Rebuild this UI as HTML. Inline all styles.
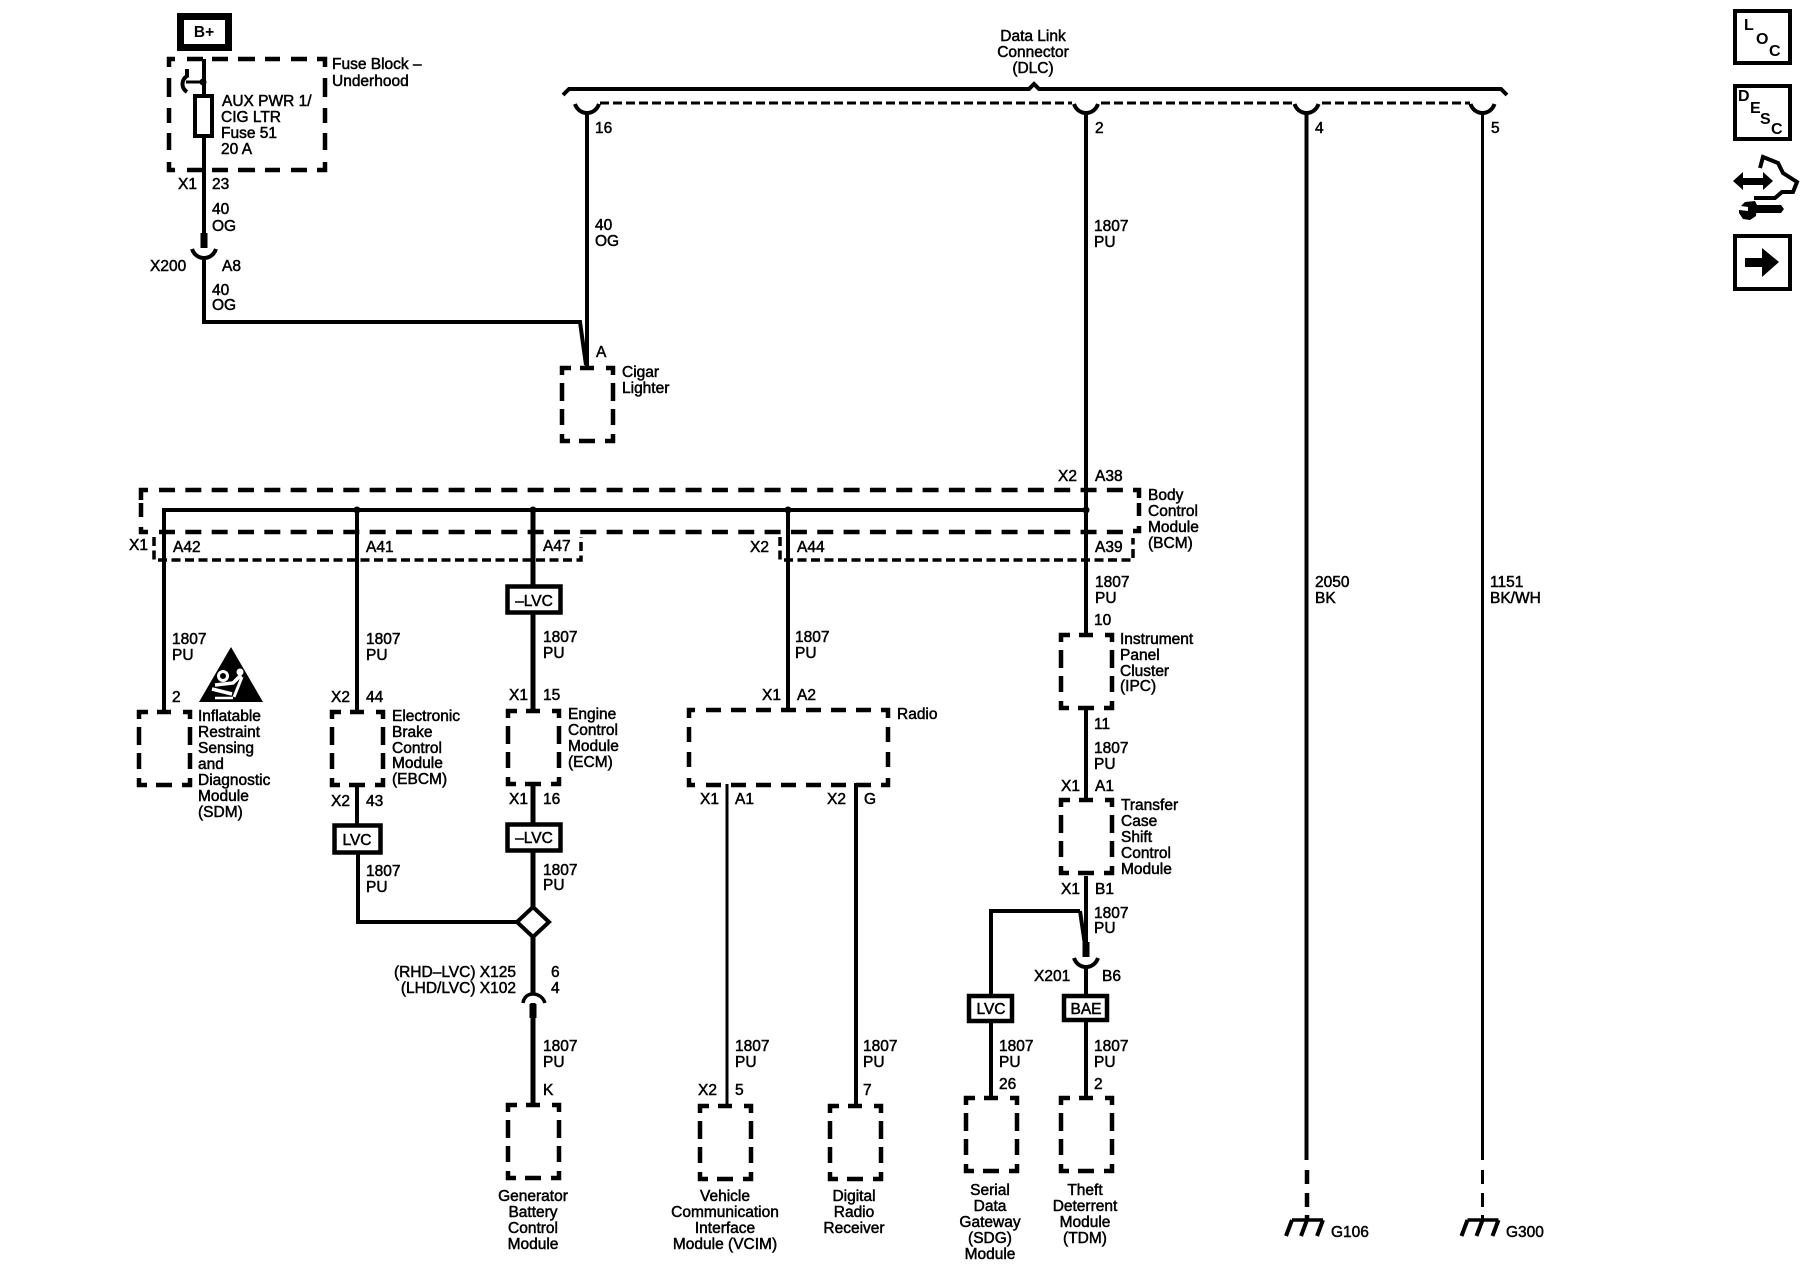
<!DOCTYPE html>
<html><head><meta charset="utf-8"><title>Wiring Diagram</title>
<style>
html,body{margin:0;padding:0;background:#fff}
svg{display:block}
text{font-family:"Liberation Sans",sans-serif;font-size:15.5px;fill:#000;stroke:#000;stroke-width:.5px}
.m{text-anchor:middle}.e{text-anchor:end}
.b{font-weight:bold;font-size:16px;stroke-width:0}
.w{fill:none;stroke:#000;stroke-width:4}
.t{fill:none;stroke:#000;stroke-width:5}
.h{fill:none;stroke:#000;stroke-width:3}
.x{fill:none;stroke:#000;stroke-width:7}
.d{fill:none;stroke:#000;stroke-width:4.500}
.f{fill:none;stroke:#000;stroke-width:3.500;stroke-dasharray:9 4.500}
.bx{fill:#fff;stroke:#000;stroke-width:4.500}
</style></head><body>
<svg width="1800" height="1280" viewBox="0 0 1800 1280" xmlns="http://www.w3.org/2000/svg">
<defs>
<path id="m" class="d" d="M2 9V2H11M20 2H34M46 2H53V9M2 17V35M2 43V59M2 68V75H10M19 75H35M45 75H53V68M53 17V35M53 43V59"/>
<path id="cup" fill="none" stroke="#000" stroke-width="4" d="M-12 0C-10 6-5 9 0 9C5 9 10 6 12 0"/>
<g id="gnd" fill="none" stroke="#000"><path stroke-width="3.500" d="M-15 0H16"/><path stroke-width="4" d="M-15 0L-21 16M0 0L-6 16M16 0L10 16"/></g>
</defs>

<!-- B+ and fuse block -->
<rect x="180.500" y="16.500" width="48" height="31" fill="#fff" stroke="#000" stroke-width="7"/>
<text class="m" x="204" y="37" style="font-weight:bold;stroke-width:0">B+</text>
<path class="d" d="M169 67V59H175M187 59H203M212 59H228M238 59H255M265 59H280M291 59H307M317 59H325V67M169 78V97M169 108V123M169 133V150M169 162V170H175M187 170H203M212 170H228M238 170H255M265 170H280M291 170H307M317 170H325V162M325 78V97M325 108V123M325 133V150"/>
<path class="w" d="M204 59V94M204 138V233"/>
<circle cx="203" cy="82" r="3.500"/>
<path class="h" d="M204 82H186"/>
<path fill="none" stroke="#000" stroke-width="4" d="M187 69V76C181 80 181 88 187 92"/>
<rect x="195" y="96" width="17" height="40" fill="#fff" stroke="#000" stroke-width="4"/>
<path class="x" d="M204 233V248"/>
<use href="#cup" x="204" y="249"/>
<path class="w" d="M204 258V322H580L586 365"/>
<text x="332" y="69">Fuse Block –</text><text x="332" y="86">Underhood</text>
<text x="222" y="106">AUX PWR 1/</text><text x="221" y="122">CIG LTR</text><text x="221" y="138">Fuse 51</text><text x="221" y="154">20 A</text>
<text x="178" y="189">X1</text><text x="212" y="189">23</text>
<text x="212" y="214">40</text><text x="212" y="231">OG</text>
<text x="150" y="271">X200</text><text x="222" y="271">A8</text>
<text x="212" y="295">40</text><text x="212" y="310">OG</text>

<!-- DLC -->
<text class="m" x="1033" y="41">Data Link</text><text class="m" x="1033" y="57">Connector</text><text class="m" x="1033" y="73">(DLC)</text>
<path class="w" d="M563 95L569 89H1029L1034 84L1039 89H1501L1507 95"/>
<path fill="none" stroke="#000" stroke-width="3" stroke-dasharray="9 4" d="M600 103H1072M1101 103H1294M1322 103H1470"/>
<use href="#cup" x="587" y="104"/><use href="#cup" x="1086" y="104"/><use href="#cup" x="1306.500" y="104"/><use href="#cup" x="1482.500" y="104"/>
<path class="w" d="M587 113V366M1086 113V633M1086 710V798M1086 876V942M1306.500 113V1160"/>
<path class="h" d="M1482.500 113V1160"/>
<path class="d" d="M1307 1170V1184M1307 1193V1207M1307 1215V1221"/>
<path class="d" d="M1482.500 1170V1184M1482.500 1193V1207M1482.500 1215V1221" style="stroke-width:3"/>
<use href="#gnd" x="1307" y="1220"/><use href="#gnd" x="1482.500" y="1220"/>
<text x="1331" y="1237">G106</text><text x="1506" y="1237">G300</text>
<text x="595" y="133">16</text><text x="1095" y="133">2</text><text x="1315" y="133">4</text><text x="1491" y="133">5</text>
<text x="595" y="230">40</text><text x="595" y="246">OG</text>
<text x="1094" y="231">1807</text><text x="1094" y="247">PU</text>
<text x="1315" y="587">2050</text><text x="1315" y="603">BK</text>
<text x="1490" y="587">1151</text><text x="1490" y="603">BK/WH</text>

<!-- Cigar lighter -->
<use href="#m" x="560" y="366"/>
<text x="596" y="357">A</text>
<text x="622" y="377">Cigar</text><text x="622" y="393">Lighter</text>

<!-- BCM -->
<path class="d" d="M149 490H1133" style="stroke-dasharray:16 10.330;stroke-dashoffset:-10"/>
<path class="d" d="M149 532H1133" style="stroke-dasharray:16 10.330;stroke-dashoffset:-10"/>
<path class="d" d="M148 490H141V500M141 503V517M141 527V532H148M1133 490H1139V498M1139 503V516M1139 526V531H1133"/>
<path class="f" d="M154 537V560H581V537"/>
<path class="f" d="M780 537V560H1133V538"/>
<path class="w" d="M164 510H1086"/>
<circle cx="357" cy="510" r="3.500"/><circle cx="533" cy="510" r="3.500"/><circle cx="788" cy="510" r="3.500"/><circle cx="1086" cy="510" r="3.500"/>
<path class="w" d="M164 508V710M357 510V710M788 510V710"/>
<path class="t" d="M533 510V709M533 785V823M533 852V1103"/>
<text x="1058" y="481">X2</text><text x="1095" y="481">A38</text>
<text x="1148" y="500">Body</text><text x="1148" y="516">Control</text><text x="1148" y="532">Module</text><text x="1148" y="548">(BCM)</text>
<text x="129" y="550">X1</text><text x="173" y="552">A42</text><text x="366" y="552">A41</text><text x="543" y="551">A47</text>
<text x="750" y="552">X2</text><text x="797" y="552">A44</text><text x="1095" y="552">A39</text>

<!-- Lower modules row -->
<use href="#m" x="137" y="710"/><use href="#m" x="330" y="710"/><use href="#m" x="506" y="709"/><use href="#m" x="1059" y="633"/><use href="#m" x="1059" y="798"/>
<rect x="507.500" y="586.500" width="53" height="26" class="bx"/><text class="m" x="534" y="606">–LVC</text>
<text x="172" y="644">1807</text><text x="172" y="660">PU</text><text x="172" y="702">2</text>
<text x="366" y="644">1807</text><text x="366" y="660">PU</text><text x="331" y="702">X2</text><text x="366" y="702">44</text>
<text x="543" y="642">1807</text><text x="543" y="658">PU</text><text x="509" y="700">X1</text><text x="543" y="700">15</text>
<text x="795" y="642">1807</text><text x="795" y="658">PU</text><text x="762" y="700">X1</text><text x="797" y="700">A2</text>

<!-- airbag triangle -->
<path d="M231 647L263 702H199Z"/>
<g fill="none" stroke="#fff"><circle cx="223" cy="676" r="4.500" stroke-width="3"/><circle cx="240" cy="672" r="3.500" fill="#fff" stroke="none"/>
<path stroke-width="3.500" d="M215 685L233 683L241 675"/><path stroke-width="3" d="M242 677L234 697"/><path stroke-width="3.500" d="M212 689L232 694"/><path stroke-width="2.500" d="M215 698H233"/></g>

<text x="198" y="721">Inflatable</text><text x="198" y="737">Restraint</text><text x="198" y="753">Sensing</text><text x="198" y="769">and</text><text x="198" y="785">Diagnostic</text><text x="198" y="801">Module</text><text x="198" y="817">(SDM)</text>
<text x="392" y="721">Electronic</text><text x="392" y="737">Brake</text><text x="392" y="753">Control</text><text x="392" y="768">Module</text><text x="392" y="784">(EBCM)</text>
<text x="568" y="719">Engine</text><text x="568" y="735">Control</text><text x="568" y="751">Module</text><text x="568" y="767">(ECM)</text>
<text x="331" y="806">X2</text><text x="366" y="806">43</text><text x="509" y="804">X1</text><text x="543" y="804">16</text>

<path class="w" d="M357 785V825M358 854V922H517"/>
<rect x="334.500" y="825.500" width="46" height="27" class="bx"/><text class="m" x="357" y="845">LVC</text>
<rect x="507.500" y="824.500" width="53" height="26" class="bx"/><text class="m" x="534" y="843">–LVC</text>
<path d="M533 907L549 922L533 937L517 922Z" fill="#fff" stroke="#000" stroke-width="4"/>
<text x="366" y="876">1807</text><text x="366" y="892">PU</text>
<text x="543" y="875">1807</text><text x="543" y="890">PU</text>
<text class="e" x="516" y="977">(RHD–LVC) X125</text><text class="e" x="516" y="993">(LHD/LVC) X102</text>
<text x="551" y="977">6</text><text x="551" y="993">4</text>
<path fill="#fff" stroke="#000" stroke-width="3.500" d="M523 1003C524 997 528 994 533 994C538 994 543 997 545 1003"/>
<path class="x" d="M533 1004V1018"/>
<text x="543" y="1051">1807</text><text x="543" y="1067">PU</text><text x="543" y="1095">K</text>
<use href="#m" x="506" y="1103"/>
<text class="m" x="533" y="1201">Generator</text><text class="m" x="533" y="1217">Battery</text><text class="m" x="533" y="1233">Control</text><text class="m" x="533" y="1249">Module</text>

<!-- Radio -->
<path class="d" d="M695 710H689V718M706 710H721M731 710H746M756 710H771M781 710H796M806 710H821M831 710H846M856 710H871M881 710H888V718M689 727V742M689 752V767M689 778V785H695M706 785H721M731 785H746M756 785H771M781 785H796M806 785H821M831 785H846M856 785H871M881 785H888V778M888 727V742M888 752V767"/>
<path class="h" d="M727 784V1104"/>
<path class="w" d="M870 785H856V1104"/>
<text x="897" y="719">Radio</text>
<text x="700" y="804">X1</text><text x="735" y="804">A1</text><text x="827" y="804">X2</text><text x="864" y="804">G</text>
<text x="735" y="1051">1807</text><text x="735" y="1067">PU</text><text x="698" y="1095">X2</text><text x="735" y="1095">5</text>
<text x="863" y="1051">1807</text><text x="863" y="1067">PU</text><text x="863" y="1095">7</text>
<use href="#m" x="698" y="1104"/><use href="#m" x="828" y="1104"/>
<text class="m" x="725" y="1201">Vehicle</text><text class="m" x="725" y="1217">Communication</text><text class="m" x="725" y="1233">Interface</text><text class="m" x="725" y="1249">Module (VCIM)</text>
<text class="m" x="854" y="1201">Digital</text><text class="m" x="854" y="1217">Radio</text><text class="m" x="854" y="1233">Receiver</text>

<!-- IPC & Transfer -->
<text x="1095" y="587">1807</text><text x="1095" y="603">PU</text><text x="1094" y="625">10</text>
<text x="1120" y="644">Instrument</text><text x="1120" y="660">Panel</text><text x="1120" y="676">Cluster</text><text x="1120" y="691">(IPC)</text>
<text x="1094" y="729">11</text><text x="1094" y="753">1807</text><text x="1094" y="769">PU</text>
<text x="1061" y="791">X1</text><text x="1095" y="791">A1</text>
<text x="1121" y="810">Transfer</text><text x="1121" y="826">Case</text><text x="1121" y="842">Shift</text><text x="1121" y="858">Control</text><text x="1121" y="874">Module</text>
<text x="1061" y="894">X1</text><text x="1095" y="894">B1</text>
<text x="1094" y="918">1807</text><text x="1094" y="933">PU</text>
<path class="w" d="M1080 911H991V994M991 1023V1097"/>
<path class="w" d="M1080 911L1085 945"/>
<path class="x" d="M1086 942V957"/>
<use href="#cup" x="1086" y="958"/>
<path class="w" d="M1086 967V994M1086 1022V1097"/>
<text x="1034" y="981">X201</text><text x="1102" y="981">B6</text>
<rect x="969" y="996" width="43" height="25" class="bx"/><text class="m" x="991" y="1014">LVC</text>
<rect x="1064" y="996" width="43" height="24" class="bx"/><text class="m" x="1086" y="1014">BAE</text>
<text x="999" y="1051">1807</text><text x="999" y="1067">PU</text><text x="999" y="1089">26</text>
<text x="1094" y="1051">1807</text><text x="1094" y="1067">PU</text><text x="1094" y="1089">2</text>
<use href="#m" x="964" y="1096"/><use href="#m" x="1059" y="1096"/>
<text class="m" x="990" y="1195">Serial</text><text class="m" x="990" y="1211">Data</text><text class="m" x="990" y="1227">Gateway</text><text class="m" x="990" y="1243">(SDG)</text><text class="m" x="990" y="1259">Module</text>
<text class="m" x="1085" y="1195">Theft</text><text class="m" x="1085" y="1211">Deterrent</text><text class="m" x="1085" y="1227">Module</text><text class="m" x="1085" y="1243">(TDM)</text>

<!-- Right icons -->
<rect x="1735" y="11" width="55" height="52" fill="none" stroke="#000" stroke-width="4"/>
<text class="b" x="1744" y="30">L</text><text class="b" x="1756" y="44">O</text><text class="b" x="1769" y="56">C</text>
<rect x="1735" y="86" width="55" height="53" fill="none" stroke="#000" stroke-width="4"/>
<text class="b" x="1738" y="101">D</text><text class="b" x="1750" y="113">E</text><text class="b" x="1760" y="124">S</text><text class="b" x="1771" y="134">C</text>
<path d="M1733 181L1743 172V178H1763V172L1773 181L1763 190V185H1743V190Z"/>
<path fill="none" stroke="#000" stroke-width="4" d="M1760 168L1763 157L1778 163L1783 173L1797 182L1793 192L1782 192L1775 198H1754"/>
<path d="M1753 205H1781L1784 209L1781 213H1753Z"/>
<path d="M1745 202L1755 201L1757 205L1756 216L1750 220L1743 219L1739 213V210L1748 211L1748 207L1741 206Z"/>
<rect x="1735" y="236" width="55" height="53" fill="none" stroke="#000" stroke-width="4"/>
<path d="M1745 258H1762V248L1779 262L1762 277V267H1745Z"/>
</svg>
</body></html>
